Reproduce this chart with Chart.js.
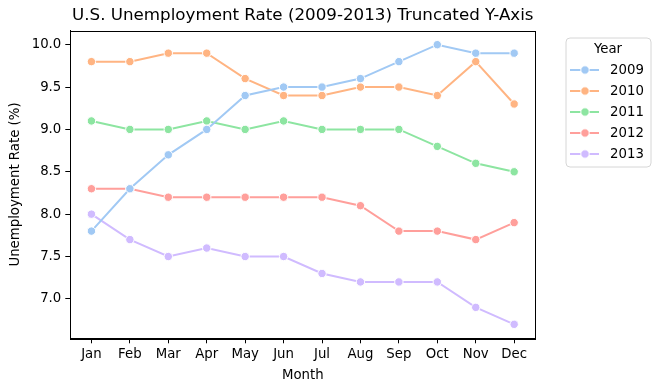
<!DOCTYPE html>
<html>
<head>
<meta charset="utf-8">
<script src="https://cdn.jsdelivr.net/npm/chart.js@4"></script>
<style>
html,body{margin:0;padding:0;background:#fff;}
#wrap{width:660px;height:391px;position:relative;}
</style>
</head>
<body>
<div id="wrap"><canvas id="c" width="660" height="391"></canvas></div>
<script>
const months = ["Jan","Feb","Mar","Apr","May","Jun","Jul","Aug","Sep","Oct","Nov","Dec"];
const years = ["2009","2010","2011","2012","2013"];
const rate2009 = [7.8, 8.3, 8.7, 9.0, 9.4, 9.5, 9.5, 9.6, 9.8, 10.0, 9.9, 9.9];
const rate2010 = [9.8, 9.8, 9.9, 9.9, 9.6, 9.4, 9.4, 9.5, 9.5, 9.4, 9.8, 9.3];
const rate2011 = [9.1, 9.0, 9.0, 9.1, 9.0, 9.1, 9.0, 9.0, 9.0, 8.8, 8.6, 8.5];
const rate2012 = [8.3, 8.3, 8.2, 8.2, 8.2, 8.2, 8.2, 8.1, 7.8, 7.8, 7.7, 7.9];
const rate2013 = [8.0, 7.7, 7.5, 7.6, 7.5, 7.5, 7.3, 7.2, 7.2, 7.2, 6.9, 6.7];
const yTicks = [7.0, 7.5, 8.0, 8.5, 9.0, 9.5, 10.0];
const colors = ["#a1c9f4", "#ffb482", "#8de5a1", "#ff9f9b", "#d0bbff"];
const series = [rate2009, rate2010, rate2011, rate2012, rate2013];

const FONT = "'DejaVu Sans', sans-serif";
Chart.defaults.font.family = FONT;
Chart.defaults.color = "#000";

const datasets = series.map((vals, k) => ({
  label: years[k],
  data: vals.map((v, i) => ({x: i, y: v})),
  borderColor: colors[k],
  backgroundColor: colors[k],
  borderWidth: 2,
  pointRadius: 4.2,
  pointHoverRadius: 4.2,
  pointBackgroundColor: colors[k],
  pointBorderColor: "#ffffff",
  pointBorderWidth: 1,
  tension: 0
}));

const allVals = series.flat();
const vmin = Math.min(...allVals), vmax = Math.max(...allVals);
const ymar = (vmax - vmin) * 0.05;
const xmar = (months.length - 1) * 0.05;

const decor = {
  id: "decor",
  afterDraw(chart) {
    const ctx = chart.ctx;
    const a = chart.chartArea;
    ctx.save();
    // frame
    ctx.strokeStyle = "#000";
    ctx.lineWidth = 1;
    ctx.strokeRect(Math.round(a.left) + 0.5, Math.round(a.top) + 0.5, Math.round(a.right - a.left), Math.round(a.bottom - a.top));
    // title
    ctx.fillStyle = "#000";
    ctx.font = "16.7px " + FONT;
    ctx.textAlign = "center";
    ctx.textBaseline = "middle";
    ctx.fillText("U.S. Unemployment Rate (2009-2013) Truncated Y-Axis", (a.left + a.right) / 2, 16);
    // legend
    const lx = 566, ly = 38, lw = 85, lh = 129, r = 4;
    ctx.beginPath();
    ctx.moveTo(lx + r, ly);
    ctx.arcTo(lx + lw, ly, lx + lw, ly + lh, r);
    ctx.arcTo(lx + lw, ly + lh, lx, ly + lh, r);
    ctx.arcTo(lx, ly + lh, lx, ly, r);
    ctx.arcTo(lx, ly, lx + lw, ly, r);
    ctx.closePath();
    ctx.fillStyle = "rgba(255,255,255,0.8)";
    ctx.fill();
    ctx.strokeStyle = "#d6d6d6";
    ctx.lineWidth = 1;
    ctx.stroke();
    ctx.fillStyle = "#000";
    ctx.font = "13.3px " + FONT;
    ctx.textAlign = "center";
    ctx.fillText("Year", 608, 49.5);
    chart.data.datasets.forEach((ds, k) => {
      const y = 70 + k * 21;
      ctx.strokeStyle = ds.borderColor;
      ctx.lineWidth = 2;
      ctx.beginPath();
      ctx.moveTo(570, y);
      ctx.lineTo(599, y);
      ctx.stroke();
      ctx.beginPath();
      ctx.arc(585, y, 4.2, 0, Math.PI * 2);
      ctx.fillStyle = ds.borderColor;
      ctx.fill();
      ctx.strokeStyle = "#fff";
      ctx.lineWidth = 1;
      ctx.stroke();
      ctx.fillStyle = "#000";
      ctx.textAlign = "left";
      ctx.fillText(ds.label, 610, y + 0.5);
    });
    ctx.restore();
  }
};

new Chart(document.getElementById("c"), {
  type: "line",
  data: { datasets },
  options: {
    responsive: false,
    animation: false,
    devicePixelRatio: 1,
    layout: { padding: { left: 0, right: 124.7, top: 30.7, bottom: 0 } },
    plugins: { legend: { display: false }, title: { display: false }, tooltip: { enabled: false } },
    scales: {
      x: {
        type: "linear",
        min: -xmar,
        max: months.length - 1 + xmar,
        afterBuildTicks: (s) => { s.ticks = months.map((m, i) => ({ value: i })); },
        afterFit: (s) => { s.height = 52.7; },
        ticks: {
          autoSkip: false,
          maxRotation: 0,
          padding: 3,
          font: { size: 13.3, family: FONT },
          color: "#000",
          callback: (v) => months[v]
        },
        grid: { drawOnChartArea: false, drawTicks: true, tickLength: 5, color: "#000", lineWidth: 1 },
        border: { display: true, color: "#000", width: 1 },
        title: { display: true, text: "Month", font: { size: 13.3, family: FONT }, color: "#000", padding: { top: 0, bottom: 7 } }
      },
      y: {
        min: vmin - ymar,
        max: vmax + ymar,
        afterBuildTicks: (s) => { s.ticks = yTicks.map(v => ({ value: v })); },
        afterFit: (s) => { s.width = 70.3; },
        ticks: {
          padding: 4,
          font: { size: 13.3, family: FONT },
          color: "#000",
          callback: (v) => Number(v).toFixed(1)
        },
        grid: { drawOnChartArea: false, drawTicks: true, tickLength: 5, color: "#000", lineWidth: 1 },
        border: { display: true, color: "#000", width: 1 },
        title: { display: true, text: "Unemployment Rate (%)", font: { size: 13.3, family: FONT }, color: "#000", padding: { top: 8, bottom: 0 } }
      }
    }
  },
  plugins: [decor]
});
</script>
</body>
</html>
